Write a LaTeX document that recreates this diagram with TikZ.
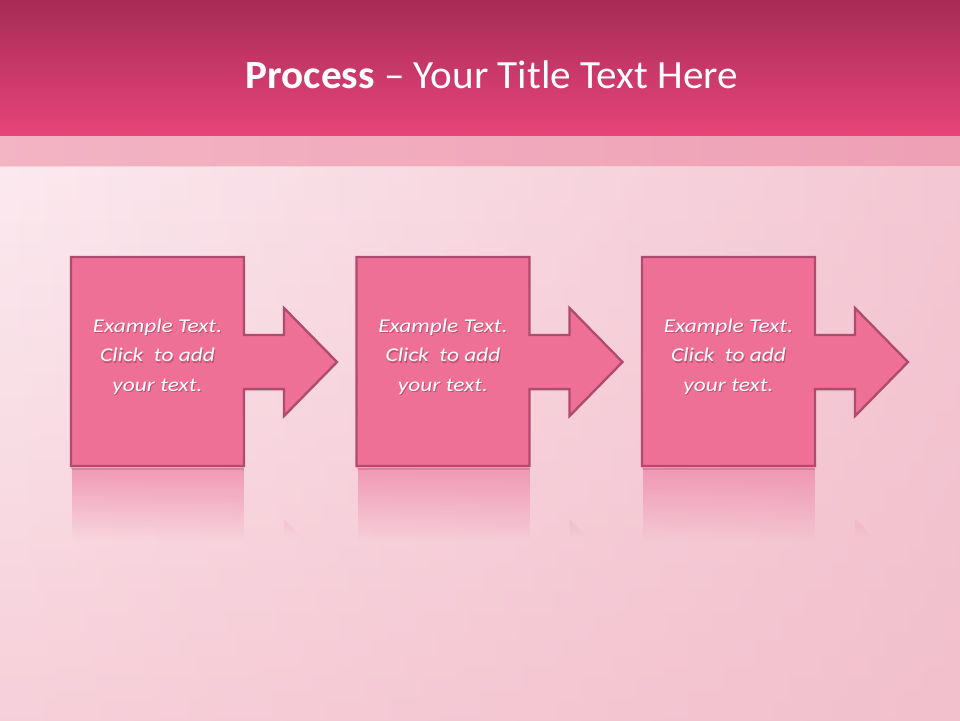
\documentclass[tikz,border=0pt]{standalone}
\usepackage{fontspec}
\setmainfont{Carlito}
\newfontfamily\boxfont[FakeStretch=1.2]{Carlito}
\newfontfamily\titlefont[FakeStretch=1.03]{Carlito}
\usetikzlibrary{fadings}
\definecolor{bandtop}{HTML}{A12A53}
\definecolor{bandbot}{HTML}{E8447A}
\definecolor{stripl}{HTML}{F3B4C4}
\definecolor{stripr}{HTML}{EEA0B5}
\definecolor{bgtop}{HTML}{FCEAF0}
\definecolor{bgbot}{HTML}{F7D0DA}
\definecolor{bgdark}{HTML}{F0B8C7}
\definecolor{boxfill}{HTML}{EE7097}
\definecolor{boxline}{HTML}{B04A6F}
\definecolor{refl}{HTML}{EF8FAE}
\definecolor{tshadow}{HTML}{6A1030}
\begin{document}
\begin{tikzpicture}[x=1pt,y=-1pt,
  procbox/.style={fill=boxfill, draw=boxline, line width=2.3pt, line join=miter},
  boxshadow/.style={fill=black, opacity=0.12},
  reflbox/.style={fill=refl, opacity=0.85, path fading=south},
  txt/.style={align=center, text=white, font=\boxfont\fontsize{19.5}{29.5}\selectfont\itshape, inner sep=0pt},
  txtshadow/.style={txt, text=tshadow, opacity=0.35},
  titletext/.style={text=white, font=\titlefont\fontsize{40}{46}\selectfont, inner sep=0pt}]
\useasboundingbox (0,0) rectangle (960,720);
% background
\shade[top color=bgtop, bottom color=bgbot] (-10,166) rectangle (970,730);
\fill[bgdark, path fading=west, opacity=0.7] (-10,166) rectangle (970,730);
% title band
\shade[top color=bandtop, bottom color=bandbot] (-10,-10) rectangle (970,136);
\shade[left color=stripl, right color=stripr] (-10,136) rectangle (970,166);
\draw[white, opacity=0.4, line width=1pt] (-10,166.5) -- (970,166.5);
\node[titletext, anchor=base] (title) at (492,88) {\textbf{Process} – Your Title Text Here};
% process steps
\foreach \i/\dx in {1/0, 2/285.5, 3/571}{
  \begin{scope}[shift={(\dx,0)}]
    % reflection
    \fill[reflbox] (72,468) rectangle (244,541);
    \draw[boxline, opacity=0.25, line width=1pt] (72,469) -- (244,469);
    \fill[refl, opacity=0.25, path fading=south] (284,519) -- (302,537) -- (284,537) -- cycle;
    % shadow
    \fill[boxshadow] (71,259) -- (244,259) -- (244,337) -- (284,337) -- (284,310) -- (337,364) -- (284,418) -- (284,391) -- (244,391) -- (244,469) -- (71,469) -- cycle;
    % shape
    \draw[procbox] (71,257) -- (244,257) -- (244,335) -- (284,335) -- (284,308) -- (337,362) -- (284,416) -- (284,389) -- (244,389) -- (244,466) -- (71,466) -- cycle;
  \end{scope}
  \node[txtshadow] (s\i) at (158.5+\dx,358) {Example Text.\\Click~ to add\\your text.};
  \node[txt] (t\i) at (157.5+\dx,356.5) {Example Text.\\Click~ to add\\your text.};
}
\end{tikzpicture}
\end{document}
